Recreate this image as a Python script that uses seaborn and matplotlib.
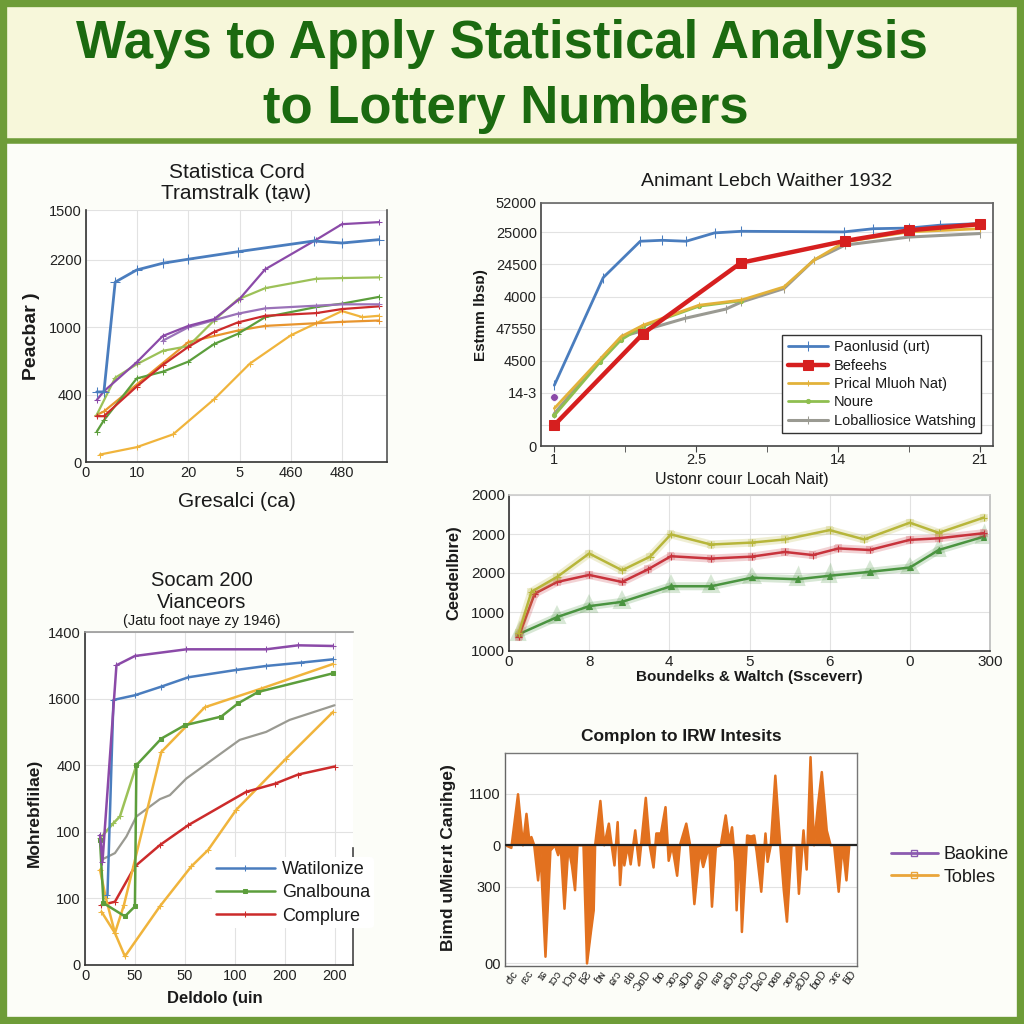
import matplotlib
matplotlib.use("Agg")
import matplotlib.pyplot as plt
import matplotlib.patheffects as pe
import numpy as np
import seaborn as sns
from matplotlib import font_manager
from matplotlib.lines import Line2D
from matplotlib.patches import Rectangle

# ---------------------------------------------------------------------------
# Data
# ---------------------------------------------------------------------------

title_lines = ["Ways to Apply Statistical Analysis", "to Lottery Numbers"]

# Panel 1 (top left) - positions are tick slots, labels are the printed ticks
p1_xticklabels = ["0", "10", "20", "5", "460", "480"]
p1_yticklabels = ["0", "400", "1000", "2200", "1500"]
p1_ytickpos = [0, 1, 2, 3, 3.74]
p1_series = {
    "blue":   ([0.21, 0.35, 0.57, 0.99, 1.50, 2.0, 2.96, 4.45, 5.0, 5.72],
               [1.04, 1.04, 2.67, 2.85, 2.95, 3.01, 3.12, 3.28, 3.25, 3.30]),
    "purple": ([0.21, 0.35, 0.99, 1.5, 2.0, 2.5, 3.0, 3.5, 4.5, 5.0, 5.72],
               [0.92, 1.05, 1.48, 1.87, 2.02, 2.12, 2.42, 2.86, 3.3, 3.53, 3.56]),
    "violet": ([1.5, 2.0, 2.96, 3.5, 4.5, 5.0, 5.72],
               [1.80, 2.0, 2.2, 2.28, 2.32, 2.34, 2.34]),
    "lime":   ([0.21, 0.57, 0.99, 1.5, 2.0, 2.5, 2.96, 3.5, 4.5, 5.0, 5.72],
               [0.7, 1.25, 1.45, 1.65, 1.72, 2.1, 2.41, 2.58, 2.72, 2.73, 2.74]),
    "green":  ([0.21, 0.35, 0.99, 1.5, 2.0, 2.5, 2.96, 3.5, 4.5, 5.0, 5.72],
               [0.45, 0.62, 1.24, 1.34, 1.49, 1.75, 1.90, 2.15, 2.30, 2.35, 2.45]),
    "red":    ([0.21, 0.35, 0.99, 1.5, 2.0, 2.5, 2.96, 3.5, 4.5, 5.0, 5.72],
               [0.68, 0.68, 1.12, 1.44, 1.71, 1.93, 2.07, 2.17, 2.21, 2.27, 2.31]),
    "orange": ([0.21, 0.35, 0.99, 2.0, 2.96, 3.5, 4.5, 5.0, 5.72],
               [0.70, 0.75, 1.15, 1.78, 1.95, 2.02, 2.06, 2.08, 2.10]),
    "gold":   ([0.27, 0.99, 1.7, 2.5, 3.2, 4.0, 5.0, 5.4, 5.72],
               [0.11, 0.22, 0.41, 0.93, 1.46, 1.88, 2.24, 2.15, 2.17]),
}

# Panel 2 (top right)
p2_xticklabels = ["1", "2.5", "14", "21"]
p2_ytickpos = [-0.65, 0, 1, 2, 3, 4, 5, 6, 6.91]
p2_yticklabels = ["0", "", "14-3", "4500", "47550", "4000", "24500", "25000", "52000"]
p2_names = ["Paonlusid (urt)", "Befeehs", "Prical Mluoh Nat)", "Noure",
            "Loballiosice Watshing"]
p2_blue_x = [0, 0.345, 0.606, 0.76, 0.93, 1.13, 1.32, 2.04, 2.25, 2.5, 2.72, 3.0]
p2_blue_y = [1.24, 4.59, 5.72, 5.75, 5.72, 5.98, 6.03, 6.01, 6.11, 6.13, 6.22, 6.27]
p2_red_x = [0, 0.627, 1.316, 2.05, 2.5, 3.0]
p2_red_y = [0, 2.85, 5.05, 5.73, 6.06, 6.25]
p2_yellow_x = [0, 0.47, 0.627, 1.02, 1.32, 1.62, 1.83, 2.05, 2.5, 3.0]
p2_yellow_y = [0.52, 2.75, 3.11, 3.73, 3.89, 4.30, 5.13, 5.70, 6.01, 6.11]
p2_green_x = [0, 0.32, 0.47, 0.627, 1.02, 1.32]
p2_green_y = [0.30, 1.95, 2.65, 3.08, 3.70, 3.87]
p2_gray_x = [0, 0.32, 0.475, 0.92, 1.21, 1.32, 1.62, 1.83, 2.05, 2.5, 3.0]
p2_gray_y = [0.36, 2.02, 2.75, 3.32, 3.61, 3.83, 4.25, 5.13, 5.60, 5.85, 5.96]
p2_dot_x = [0]
p2_dot_y = [0.86]

# Panel 3 (middle right)
p3_xticklabels = ["0", "8", "4", "5", "6", "0", "300"]
p3_yticklabels = ["1000", "1000", "2000", "2000", "2000"]
p3_olive_x = [0.12, 0.28, 0.6, 1.0, 1.41, 1.76, 2.02, 2.52, 3.03, 3.44, 4.0, 4.43, 5.0, 5.36, 5.92]
p3_olive_y = [0.45, 1.52, 1.9, 2.5, 2.07, 2.42, 2.99, 2.73, 2.78, 2.86, 3.1, 2.86, 3.29, 3.03, 3.42]
p3_red_x = [0.12, 0.32, 0.6, 1.0, 1.41, 1.73, 2.02, 2.52, 3.03, 3.44, 3.79, 4.11, 4.5, 5.0, 5.36, 5.92]
p3_red_y = [0.36, 1.47, 1.77, 1.95, 1.77, 2.09, 2.43, 2.37, 2.42, 2.54, 2.46, 2.63, 2.59, 2.85, 2.89, 3.02]
p3_green_x = [0.12, 0.6, 1.0, 1.41, 2.02, 2.52, 3.03, 3.6, 4.0, 4.5, 5.0, 5.36, 5.92]
p3_green_y = [0.43, 0.87, 1.15, 1.26, 1.66, 1.66, 1.88, 1.84, 1.93, 2.03, 2.14, 2.59, 2.93]

# Panel 4 (bottom left)
p4_xticklabels = ["0", "50", "50", "100", "200", "200"]
p4_yticklabels = ["0", "100", "100", "400", "1600", "1400"]
p4_names = ["Watilonize", "Gnalbouna", "Complure"]
p4_purple_x = [0.3, 0.35, 0.63, 1.0, 2.03, 3.63, 4.27, 4.97]
p4_purple_y = [1.95, 1.55, 4.5, 4.64, 4.74, 4.74, 4.8, 4.79]
p4_blue_x = [0.45, 0.57, 1.0, 1.53, 2.07, 3.03, 3.63, 4.33, 4.97]
p4_blue_y = [1.05, 3.98, 4.05, 4.18, 4.32, 4.43, 4.49, 4.54, 4.59]
p4_green_x = [0.3, 0.37, 0.8, 1.0, 1.03, 1.53, 2.0, 2.73, 3.07, 3.47, 4.97]
p4_green_y = [1.88, 0.93, 0.73, 0.88, 3.0, 3.4, 3.6, 3.73, 3.93, 4.1, 4.38]
p4_lime_x = [0.3, 0.57, 0.7, 1.03]
p4_lime_y = [1.9, 2.13, 2.23, 3.0]
p4_gold_x = [0.3, 0.42, 0.6, 0.78, 1.53, 2.4, 3.53, 4.97]
p4_gold_y = [1.43, 1.0, 0.48, 0.9, 3.2, 3.87, 4.15, 4.52]
p4_orange_x = [0.33, 0.6, 0.8, 1.5, 2.13, 2.47, 3.03, 4.03, 4.97]
p4_orange_y = [0.8, 0.48, 0.13, 0.88, 1.48, 1.73, 2.33, 3.1, 3.8]
p4_red_x = [0.33, 0.6, 1.0, 1.5, 2.07, 3.23, 3.8, 4.27, 5.0]
p4_red_y = [0.9, 0.95, 1.48, 1.8, 2.1, 2.6, 2.72, 2.86, 2.98]
p4_gray_x = [0.33, 0.6, 0.83, 1.03, 1.5, 1.7, 2.03, 3.1, 3.63, 4.1, 5.0]
p4_gray_y = [1.58, 1.68, 1.93, 2.23, 2.49, 2.55, 2.8, 3.38, 3.5, 3.68, 3.9]

# Panel 5 (bottom right)
p5_ytickpos = [-2.29, -0.806, 0, 1.0]
p5_yticklabels = ["00", "300", "0", "1100"]
p5_xticklabels = ["ƈƖc", "ɾɛc", "ɪɕ", "ɪɔɔ", "ƖƆɒ", "ƃƧ", "ɓɴ", "ɕɾɔ", "ɛƖɒ",
                  "ƆɒD", "ɓɒ", "ɔɒɔ", "ɜDɒ", "ɕɒD", "ɾɕɒ", "ɕDɒ", "ɒƆɒ",
                  "DɕO", "ɒɞɒ", "ɔɒɒ", "ƨDD", "ɓɒD", "ɔɾɛ", "ƃD"]
p5_names = ["Baokine", "Tobles"]
p5_x = [0.2, 1.8, 3.7, 5.1, 6.1, 6.9, 7.5, 8.3, 9.4, 10.1, 11.5, 12.9, 14.2, 15.1,
        15.8, 16.9, 18.0, 19.0, 19.9, 20.6, 22.3, 23.3, 24.4, 25.2, 25.6, 27.1,
        28.2, 29.5, 30.3, 31.1, 32.0, 32.7, 33.5, 33.9, 34.9, 35.7, 37.0, 38.1,
        40.0, 41.1, 42.2, 43.0, 44.3, 45.6, 46.5, 47.5, 48.9, 49.7, 51.5, 52.6,
        53.8, 55.3, 56.3, 58.0, 58.8, 59.9, 61.3, 62.7, 63.7, 64.5, 65.4, 65.8,
        66.7, 67.3, 68.8, 69.9, 70.8, 71.5, 72.8, 74.0, 74.6, 75.5, 76.8, 78.2,
        79.2, 80.1, 81.4, 82.8, 83.5, 84.8, 85.7, 86.8, 87.8, 88.9, 90.0, 91.4,
        92.5, 93.5, 94.8, 95.9, 97.0, 97.8]
p5_y = [0, -0.05, 0.99, 0, 0.61, 0.10, 0.16, 0, -0.68, -0.16, -2.16, -0.10, 0,
        -0.19, 0, -1.23, -0.03, -0.39, -0.87, 0, 0, -2.29, -1.68, -1.26, 0, 0.86,
        0, 0.42, 0, -0.39, 0.45, -0.77, 0, -0.39, 0, -0.37, 0.29, -0.39, 0.92, 0,
        -0.43, 0.23, 0.23, 0.74, -0.30, 0, -0.59, 0, 0.42, 0, -1.14, -0.10,
        -0.42, 0, -1.19, -0.03, 0, 0.58, 0.06, 0.35, -0.32, -1.26, 0, -1.68,
        0.19, 0.17, 0.19, -0.13, -0.90, 0.23, -0.32, 0, 1.35, 0, -0.87, -1.48, 0,
        0, -0.94, 0.29, -0.47, 1.71, 0, 0.77, 1.42, 0.29, 0, 0, -0.90, 0, -0.68, 0]

# ---------------------------------------------------------------------------
# Style
# ---------------------------------------------------------------------------

sns.set_style("whitegrid", {"grid.color": "#e2e2e2", "axes.edgecolor": "#444444"})
plt.rcParams["font.family"] = ["Liberation Sans", "DejaVu Sans"]
plt.rcParams["text.color"] = "#1a1a1a"
plt.rcParams["axes.labelcolor"] = "#1a1a1a"

BLUE, PURPLE, VIOLET = "#4a7dbe", "#8b4aa8", "#9a72b8"
RED, ORANGE, GOLD = "#cc2b2b", "#e8952e", "#f0b43c"
GREEN, LIME, GRAY = "#5c9e3c", "#9cc158", "#9a9a92"
TITLE_GREEN, FRAME_GREEN = "#1b6a10", "#6e9c38"

font_names = {f.name for f in font_manager.fontManager.ttflist}
if "Liberation Sans Narrow" in font_names:
    title_family, title_size = ["Liberation Sans Narrow", "DejaVu Sans"], 42
else:
    title_family, title_size = ["Liberation Sans", "DejaVu Sans"], 38


def line(ax, xs, ys, color, lw=1.6, marker=None, ms=4, label=None, glow=False):
    kws = {}
    if glow:
        kws["path_effects"] = [pe.Stroke(linewidth=lw + 4, foreground=color, alpha=0.22),
                               pe.Normal()]
    sns.lineplot(x=xs, y=ys, color=color, lw=lw, marker=marker, markersize=ms,
                 markeredgecolor=color, sort=False, estimator=None, legend=False,
                 label=label, ax=ax, **kws)


def frame(ax, left="#333333", bottom="#333333", right=None, top=None, lw=1.2):
    for side, col in (("left", left), ("bottom", bottom), ("right", right), ("top", top)):
        sp = ax.spines[side]
        if col is None:
            sp.set_visible(False)
        else:
            sp.set_visible(True)
            sp.set_color(col)
            sp.set_linewidth(lw)


fig = plt.figure(figsize=(10.24, 10.24), dpi=100, facecolor="#fcfdf8")

# banner + outer frame
fig.patches.append(Rectangle((0, 1 - 141 / 1024), 1, 141 / 1024, transform=fig.transFigure,
                             facecolor="#f7f7da", edgecolor=FRAME_GREEN, lw=4, zorder=0))
fig.patches.append(Rectangle((0.003, 0.003), 0.994, 0.994, transform=fig.transFigure,
                             fill=False, edgecolor=FRAME_GREEN, lw=6, zorder=5))
fig.text(0.490, 1 - 58 / 1024, title_lines[0], ha="center", va="baseline",
         fontsize=title_size, fontweight="bold", color=TITLE_GREEN, family=title_family)
fig.text(0.494, 1 - 123 / 1024, title_lines[1], ha="center", va="baseline",
         fontsize=title_size, fontweight="bold", color=TITLE_GREEN, family=title_family)

# ---------------------------------------------------------------------------
# Panel 1
# ---------------------------------------------------------------------------
ax1 = fig.add_axes([86 / 1024, 1 - 462 / 1024, 301 / 1024, 252 / 1024])
p1_colors = {"blue": BLUE, "purple": PURPLE, "violet": VIOLET, "lime": LIME,
             "green": GREEN, "red": RED, "orange": ORANGE, "gold": GOLD}
for name in ["gold", "orange", "green", "lime", "red", "violet", "purple", "blue"]:
    xs, ys = p1_series[name]
    line(ax1, xs, ys, p1_colors[name], lw=2.0 if name == "blue" else 1.6,
         marker="+", ms=7 if name == "blue" else 5)
ax1.set_xlim(0, 5.88)
ax1.set_ylim(0, 3.74)
ax1.set_xticks(range(len(p1_xticklabels)), p1_xticklabels)
ax1.set_yticks(p1_ytickpos, p1_yticklabels)
frame(ax1, right="#555555")
ax1.set_title("Statistica Cord\nTramstralk (tạw)", fontsize=15, pad=8, linespacing=1.1)
ax1.set_xlabel("Gresalci (ca)", fontsize=15)
ax1.set_ylabel("Peacbar )", fontsize=14, fontweight="bold")
ax1.xaxis.set_label_coords(0.5, -0.12)
ax1.yaxis.set_label_coords(-0.153, 0.5)

# ---------------------------------------------------------------------------
# Panel 2
# ---------------------------------------------------------------------------
ax2 = fig.add_axes([541 / 1024, 1 - 446 / 1024, 452 / 1024, 243 / 1024])
line(ax2, p2_gray_x, p2_gray_y, GRAY, lw=2.2, marker="|", ms=6, label=p2_names[4])
line(ax2, p2_green_x, p2_green_y, "#8fbf50", lw=2.0, marker="o", ms=3, label=p2_names[3])
line(ax2, p2_yellow_x, p2_yellow_y, "#e2b23a", lw=2.0, marker="|", ms=5, label=p2_names[2])
line(ax2, p2_blue_x, p2_blue_y, BLUE, lw=2.0, marker="|", ms=7, label=p2_names[0])
line(ax2, p2_red_x, p2_red_y, "#d61f1f", lw=3.2, marker="s", ms=7, label=p2_names[1])
sns.scatterplot(x=p2_dot_x, y=p2_dot_y, color=PURPLE, s=30, ax=ax2, legend=False)
ax2.set_xlim(-0.094, 3.094)
ax2.set_ylim(-0.65, 6.91)
ax2.set_xticks(range(len(p2_xticklabels)), p2_xticklabels)
ax2.set_xticks([0.5, 1.5, 2.5], minor=True)
ax2.set_yticks(p2_ytickpos, p2_yticklabels)
ax2.grid(axis="x", visible=False)
frame(ax2, left="#444444", bottom="#444444", right="#555555", top="#666666")
ax2.tick_params(axis="x", which="both", length=4, color="#444444", bottom=True)
ax2.set_title("Animant Lebch Waither 1932", fontsize=14, pad=12)
ax2.set_xlabel("Ustonr couır Locah Nait)", fontsize=11.5)
ax2.set_ylabel("Estmm lbsɒ)", fontsize=11, fontweight="bold")
ax2.xaxis.set_label_coords(0.445, -0.105)
ax2.yaxis.set_label_coords(-0.117, 0.54)
h, l = ax2.get_legend_handles_labels()
order = [l.index(n) for n in p2_names]
ax2.legend([h[i] for i in order], [l[i] for i in order], loc="upper left",
           bbox_to_anchor=(0.518, 0.486), fontsize=10.5, frameon=True, fancybox=False,
           edgecolor="#333333", framealpha=1, handlelength=2.8, labelspacing=0.3,
           borderpad=0.35, handletextpad=0.4)

# ---------------------------------------------------------------------------
# Panel 3
# ---------------------------------------------------------------------------
ax3 = fig.add_axes([509 / 1024, 1 - 651 / 1024, 481 / 1024, 156 / 1024])
line(ax3, p3_green_x, p3_green_y, "#4a9440", lw=1.8, marker="^", ms=4, glow=True)
line(ax3, p3_red_x, p3_red_y, "#c8333c", lw=1.8, marker="+", ms=5, glow=True)
line(ax3, p3_olive_x, p3_olive_y, "#b7b63a", lw=1.8, marker="+", ms=5, glow=True)
ax3.set_xlim(0, 6)
ax3.set_ylim(0, 4)
ax3.set_xticks(range(len(p3_xticklabels)), p3_xticklabels)
ax3.set_yticks(range(len(p3_yticklabels)), p3_yticklabels)
frame(ax3, right="#bbbbbb", top="#cccccc")
ax3.set_xlabel("Boundelks & Waltch (Ssceverr)", fontsize=11, fontweight="bold")
ax3.set_ylabel("Ceedeılbıre)", fontsize=12, fontweight="bold")
ax3.xaxis.set_label_coords(0.5, -0.125)
ax3.yaxis.set_label_coords(-0.10, 0.5)

# ---------------------------------------------------------------------------
# Panel 4
# ---------------------------------------------------------------------------
ax4 = fig.add_axes([85 / 1024, 1 - 965 / 1024, 268 / 1024, 333 / 1024])
line(ax4, p4_gray_x, p4_gray_y, GRAY, lw=1.6)
line(ax4, p4_orange_x, p4_orange_y, GOLD, lw=1.8, marker="+", ms=4)
line(ax4, p4_red_x, p4_red_y, RED, lw=1.8, marker="+", ms=4, label=p4_names[2])
line(ax4, p4_lime_x, p4_lime_y, LIME, lw=1.8, marker="+", ms=4)
line(ax4, p4_gold_x, p4_gold_y, GOLD, lw=1.8, marker="+", ms=4)
line(ax4, p4_green_x, p4_green_y, GREEN, lw=1.8, marker="s", ms=3, label=p4_names[1])
line(ax4, p4_blue_x, p4_blue_y, BLUE, lw=1.8, marker="+", ms=4, label=p4_names[0])
line(ax4, p4_purple_x, p4_purple_y, PURPLE, lw=1.8, marker="+", ms=5)
ax4.set_xlim(0, 5.37)
ax4.set_ylim(0, 5)
ax4.set_xticks(range(len(p4_xticklabels)), p4_xticklabels)
ax4.set_yticks(range(len(p4_yticklabels)), p4_yticklabels)
frame(ax4, right="#444444", top="#999999")
ax4.spines["right"].set_bounds(0, 1.75)
fig.text(202 / 1024, 1 - 580 / 1024, "Socam 200", ha="center", va="center", fontsize=14.5)
fig.text(202 / 1024, 1 - 603 / 1024, "Vianceors", ha="center", va="center", fontsize=14.5)
fig.text(202 / 1024, 1 - 621 / 1024, "(Jatu foot naye zy 1946)", ha="center", va="center",
         fontsize=10.5)
ax4.set_xlabel("Deldolo (uin", fontsize=12, fontweight="bold")
ax4.set_ylabel("Mohrebflilae)", fontsize=12.5, fontweight="bold")
ax4.xaxis.set_label_coords(0.485, -0.078)
ax4.yaxis.set_label_coords(-0.16, 0.456)
h, l = ax4.get_legend_handles_labels()
order = [l.index(n) for n in p4_names]
ax4.legend([h[i] for i in order], [l[i] for i in order], loc="upper left",
           bbox_to_anchor=(0.44, 0.35), fontsize=13, frameon=True, facecolor="white",
           edgecolor="none", framealpha=1, handlelength=3.3, labelspacing=0.35,
           borderpad=0.2, handletextpad=0.4)

# ---------------------------------------------------------------------------
# Panel 5
# ---------------------------------------------------------------------------
ax5 = fig.add_axes([505 / 1024, 1 - 966 / 1024, 352 / 1024, 213 / 1024])
ax5.fill_between(p5_x, p5_y, 0, color="#e2711f", lw=0)
line(ax5, p5_x, p5_y, "#e2711f", lw=1.8)
ax5.axhline(0, color="#222222", lw=1.6, zorder=3)
ax5.set_xlim(0, 100)
ax5.set_ylim(-2.34, 1.79)
ax5.set_yticks(p5_ytickpos, p5_yticklabels)
ax5.set_xticks(np.linspace(2, 98, len(p5_xticklabels)), p5_xticklabels,
               rotation=55, ha="right", rotation_mode="anchor", fontsize=8)
ax5.grid(axis="x", visible=False)
frame(ax5, left="#666666", bottom="#666666", right="#777777", top="#777777", lw=1.0)
ax5.set_title("Complon to IRW Intesits", fontsize=12.5, fontweight="bold", pad=9)
ax5.set_ylabel("Bimd uMierɹt Canihge)", fontsize=12.5, fontweight="bold")
ax5.yaxis.set_label_coords(-0.139, 0.51)
p5_handles = [Line2D([], [], color="#8b5bb0", lw=2, marker="s", ms=5, mfc="none"),
              Line2D([], [], color="#eaa53a", lw=2, marker="s", ms=5, mfc="none")]
ax5.legend(p5_handles, p5_names, loc="center left", bbox_to_anchor=(1.05, 0.47),
           fontsize=13, frameon=False, handlelength=2.6, labelspacing=0.3,
           handletextpad=0.3)

for ax in (ax1, ax2, ax3, ax4, ax5):
    ax.set_facecolor("white")
    ax.tick_params(axis="both", labelsize=10.5, labelcolor="#222222", pad=3)
    ax.tick_params(axis="y", length=0)
ax5.tick_params(axis="x", labelsize=8, length=0, pad=2)
for ax in (ax1, ax3, ax4):
    ax.tick_params(axis="x", length=0)
ax2.tick_params(axis="x", pad=1)
ax3.tick_params(labelsize=11)

fig.savefig("out.png", dpi=100, facecolor=fig.get_facecolor())
plt.close(fig)
